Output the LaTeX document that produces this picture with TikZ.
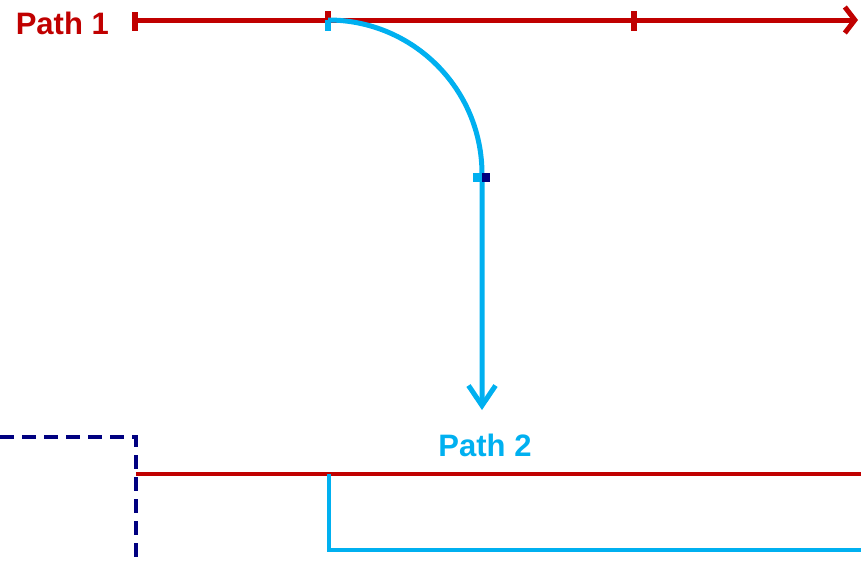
\documentclass[tikz,border=0pt]{standalone}
\usepackage{fontspec}
\setmainfont{Liberation Sans}
\usetikzlibrary{arrows.meta,positioning}
\definecolor{pRed}{RGB}{192,0,0}
\definecolor{pCyan}{RGB}{0,176,240}
\definecolor{pNavy}{RGB}{0,0,128}

\begin{document}
\begin{tikzpicture}[
	x=1pt, y=-1pt,
	redpath/.style={draw=pRed, line width=5pt},
	cyanpath/.style={draw=pCyan, line width=5pt},
	lbl/.style={font=\bfseries\fontsize{31}{32}\selectfont, inner sep=0pt},
	tickmark/.style={line width=6.5pt}
	]
	\useasboundingbox (0,0) rectangle (861,562);

	% path 1
	\coordinate (s1) at (135,20);
	\coordinate (m1) at (328,20);
	\coordinate (t1) at (634,20);
	\coordinate (e1) at (858,20);
	\draw[redpath,-{Straight Barb[length=10pt,width=26pt]}] (s1) -- (e1);
	\node[lbl, text=pRed, anchor=base east] (lab1) at (109,34) {Path 1};
	\draw[tickmark, pRed] ([yshift=8pt]s1) -- ([yshift=-11pt]s1);
	\draw[tickmark, pRed] ([yshift=9pt]m1) -- (m1);
	\draw[tickmark, pRed] ([yshift=9pt]t1) -- ([yshift=-11pt]t1);

	% path 2
	\coordinate (e2) at (482,410);
	\draw[cyanpath, rounded corners=154pt, -{Straight Barb[length=20pt,width=27pt]}] (m1) -| (e2);
	\node[lbl, text=pCyan, anchor=base] (lab2) at (485,456) {Path 2};
	\draw[tickmark, pCyan] (m1) -- ([yshift=-11pt]m1);
	\coordinate (k2) at (482,177);
	\draw[pCyan, line width=9pt] ([xshift=-9pt]k2) -- (k2);
	\draw[pNavy, line width=9pt] (k2) -- ([xshift=8pt]k2);

	% lower part
	\coordinate (d0) at (0,437);
	\coordinate (d1) at (136,437);
	\coordinate (d2) at (136,562);
	\coordinate (r0) at (136,474);
	\coordinate (r1) at (861,474);
	\coordinate (c0) at (329,474);
	\coordinate (c1) at (861,550);
	\draw[pNavy, line width=4.5pt, dash pattern=on 14pt off 8pt] (d0) -- (d1) -- (d2);
	\draw[pRed, line width=4pt] (r0) -- (r1);
	\draw[pCyan, line width=3.5pt] (c0) |- (c1);
\end{tikzpicture}
\end{document}
